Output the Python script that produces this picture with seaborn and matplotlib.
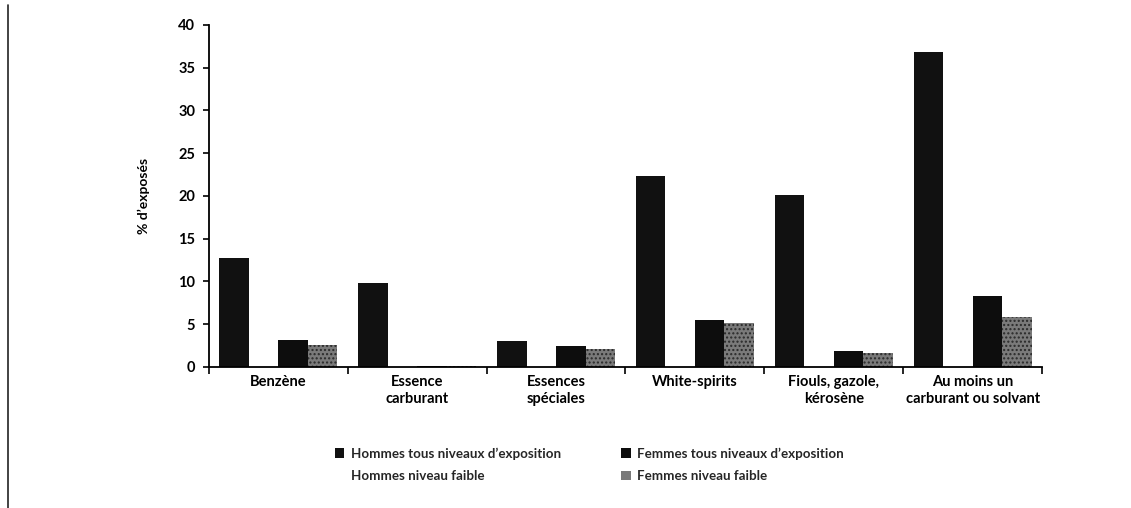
import matplotlib
matplotlib.use("Agg")
import matplotlib.pyplot as plt
from matplotlib.lines import Line2D
from matplotlib.ticker import FixedLocator
import pandas as pd
import seaborn as sns

categories = ["Benzène", "Essence\ncarburant", "Essences\nspéciales", "White-spirits",
              "Fiouls, gazole,\nkérosène", "Au moins un\ncarburant ou solvant"]
series = ["Hommes tous niveaux d'exposition", "Hommes niveau faible",
          "Femmes tous niveaux d'exposition", "Femmes niveau faible"]
hommes_tous = [12.7, 9.8, 3.0, 22.3, 20.1, 36.8]
hommes_faible = [0.1, 0.1, 0.1, 0.1, 0.1, 0.1]
femmes_tous = [3.1, 0.1, 2.4, 5.5, 1.9, 8.3]
femmes_faible = [2.6, 0.1, 2.1, 5.2, 1.6, 5.8]
legend_labels = ["Hommes tous niveaux d\u2019exposition", "Hommes niveau faible",
                 "Femmes tous niveaux d\u2019exposition", "Femmes niveau faible"]
y_ticks = [0, 5, 10, 15, 20, 25, 30, 35, 40]

sns.set_theme(style="white")
plt.rcParams["font.family"] = ["Lato", "DejaVu Sans"]
plt.rcParams["font.weight"] = "bold"

df = pd.DataFrame({
    "cat": categories * 4,
    "serie": [s for s in series for _ in categories],
    "val": hommes_tous + hommes_faible + femmes_tous + femmes_faible,
})

palette = {series[0]: "#111111", series[1]: "#ffffff",
           series[2]: "#0d0d0d", series[3]: "#7a7a7a"}

fig = plt.figure(figsize=(11.31, 5.08), dpi=100)
ax = fig.add_axes([0.1848, 0.2776, 0.7365, 0.6732])

sns.barplot(data=df, x="cat", y="val", hue="serie", order=categories,
            hue_order=series, palette=palette, width=0.85, gap=0,
            saturation=1, linewidth=0, ax=ax)

# stippled texture for the low-level women series
for bar in ax.containers[3]:
    bar.set_hatch("....")
    bar.set_edgecolor("#2a2a2a")
    bar.set_linewidth(0)

ax.set_xlim(-0.5, len(categories) - 0.5)
ax.set_ylim(0, 40)
ax.set_yticks(y_ticks)
ax.set_xlabel("")
ax.set_ylabel("% d\u2019exposés", fontsize=10, fontweight="bold", color="black", labelpad=20)

for side in ["top", "right"]:
    ax.spines[side].set_visible(False)
for side in ["left", "bottom"]:
    ax.spines[side].set_color("black")
    ax.spines[side].set_linewidth(1.3)

ax.xaxis.set_minor_locator(FixedLocator([i - 0.5 for i in range(len(categories) + 1)]))
ax.tick_params(axis="x", which="major", length=0, labelsize=10.5, labelcolor="black", pad=6)
ax.tick_params(axis="x", which="minor", length=5, width=1.2, color="black", direction="out", bottom=True)
ax.tick_params(axis="y", length=4, width=1.2, color="black", direction="out", left=True,
               labelsize=10.5, labelcolor="black", pad=6)

handles, _ = ax.get_legend_handles_labels()
ax.legend(handles, legend_labels, ncol=2, loc="upper left",
          bbox_to_anchor=(0.137, -0.2), frameon=False, fontsize=9.6,
          handlelength=0.7, handleheight=0.7, handletextpad=0.5,
          columnspacing=4.5, labelspacing=0.8)

# page margin rule on the left
fig.add_artist(Line2D([0.0075, 0.0075], [0.0, 0.99], color="#222222", linewidth=1.2))

fig.savefig("out.png", dpi=100, facecolor="white")
